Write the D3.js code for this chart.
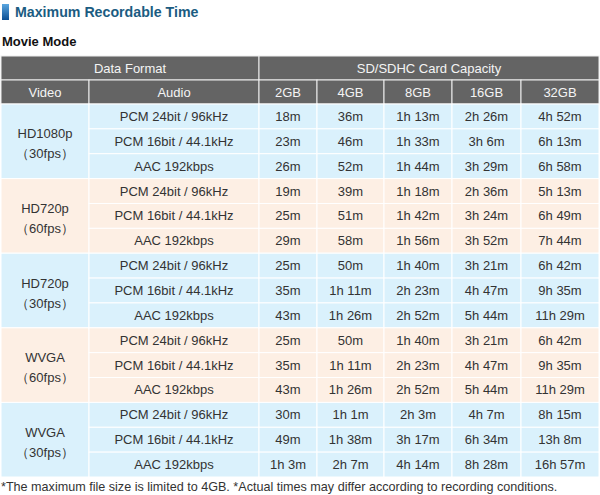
<!DOCTYPE html>
<html>
<head>
<meta charset="utf-8">
<script src="https://cdnjs.cloudflare.com/ajax/libs/d3/7.8.5/d3.min.js"></script>
<style>
body { margin: 0; background: #fff; }
svg text { font-family: "Liberation Sans", Arial, sans-serif; }
</style>
</head>
<body>
<div id="chart"></div>
<script>
// table content
var videoFormats = ["HD1080p", "HD720p", "HD720p", "WVGA", "WVGA"];
var frameRates = ["（30fps）", "（60fps）", "（30fps）", "（60fps）", "（30fps）"];
var audioFormats = ["PCM 24bit / 96kHz", "PCM 16bit / 44.1kHz", "AAC 192kbps"];
var capacities = ["2GB", "4GB", "8GB", "16GB", "32GB"];
// one row per video/audio combination, one value per capacity
var recTimes = [
	["18m", "36m", "1h 13m", "2h 26m", "4h 52m"],
	["23m", "46m", "1h 33m", "3h 6m", "6h 13m"],
	["26m", "52m", "1h 44m", "3h 29m", "6h 58m"],
	["19m", "39m", "1h 18m", "2h 36m", "5h 13m"],
	["25m", "51m", "1h 42m", "3h 24m", "6h 49m"],
	["29m", "58m", "1h 56m", "3h 52m", "7h 44m"],
	["25m", "50m", "1h 40m", "3h 21m", "6h 42m"],
	["35m", "1h 11m", "2h 23m", "4h 47m", "9h 35m"],
	["43m", "1h 26m", "2h 52m", "5h 44m", "11h 29m"],
	["25m", "50m", "1h 40m", "3h 21m", "6h 42m"],
	["35m", "1h 11m", "2h 23m", "4h 47m", "9h 35m"],
	["43m", "1h 26m", "2h 52m", "5h 44m", "11h 29m"],
	["30m", "1h 1m", "2h 3m", "4h 7m", "8h 15m"],
	["49m", "1h 38m", "3h 17m", "6h 34m", "13h 8m"],
	["1h 3m", "2h 7m", "4h 14m", "8h 28m", "16h 57m"]
];
var titleText = "Maximum Recordable Time";
var subTitle = "Movie Mode";
var footNote = "*The maximum file size is limited to 4GB. *Actual times may differ according to recording conditions.";

var width = 600, height = 495;
// column edges: video, audio, then the capacity columns
var colEdges = [1, 89, 259, 317, 384, 452, 521, 599];
var headTop = 56, headRow = 24;
var bodyTop = headTop + 2*headRow, bodyBottom = 477;

var headColor = "#646464";
var groupColors = ["#daf1fc", "#fdefe4"];
var textColor = "#333";

var svg = d3.select("#chart").append("svg")
	.attr("width", width)
	.attr("height", height);

// row scale for the body
var rowIdx = d3.range(recTimes.length);
var yScale = d3.scaleBand()
	.domain(rowIdx)
	.range([bodyTop, bodyBottom]);

// column scale: key -> left edge
var colKeys = ["video", "audio"].concat(capacities);
var xScale = d3.scaleOrdinal()
	.domain(colKeys)
	.range(colEdges.slice(0, -1));
function colW(k) {
	var i = colKeys.indexOf(k);
	return colEdges[i+1] - colEdges[i];
}

// title bar
var grad = svg.append("defs").append("linearGradient")
	.attr("id", "tbar").attr("x1", 0).attr("y1", 0).attr("x2", 0).attr("y2", 1);
grad.append("stop").attr("offset", "0%").attr("stop-color", "#5aa6e0");
grad.append("stop").attr("offset", "100%").attr("stop-color", "#0d4f93");
svg.append("rect")
	.attr("x", 2).attr("y", 4).attr("width", 7).attr("height", 16)
	.attr("fill", "url(#tbar)");
svg.append("text")
	.attr("x", 15).attr("y", 17)
	.attr("font-size", 14.2).attr("font-weight", "bold")
	.attr("fill", "#1b5c82")
	.text(titleText);
svg.append("text")
	.attr("x", 2).attr("y", 46)
	.attr("font-size", 13).attr("font-weight", "bold")
	.attr("fill", "#111")
	.text(subTitle);

// header
var head = svg.append("g").attr("class", "head");
var headCells = [
	{x0: colEdges[0], x1: colEdges[2], y: headTop, t: "Data Format"},
	{x0: colEdges[2], x1: colEdges[7], y: headTop, t: "SD/SDHC Card Capacity"},
	{x0: colEdges[0], x1: colEdges[1], y: headTop + headRow, t: "Video"},
	{x0: colEdges[1], x1: colEdges[2], y: headTop + headRow, t: "Audio"}
];
capacities.forEach(function(c) {
	headCells.push({x0: xScale(c), x1: xScale(c) + colW(c), y: headTop + headRow, t: c});
});
head.selectAll("rect").data(headCells).enter().append("rect")
	.attr("x", function(d){ return d.x0; })
	.attr("y", function(d){ return d.y; })
	.attr("width", function(d){ return d.x1 - d.x0; })
	.attr("height", headRow)
	.attr("fill", headColor)
	.attr("stroke", "#eee").attr("stroke-width", 1);
head.selectAll("text").data(headCells).enter().append("text")
	.attr("x", function(d){ return (d.x0 + d.x1)/2; })
	.attr("y", function(d){ return d.y + headRow/2 + 4.5; })
	.attr("text-anchor", "middle")
	.attr("font-size", 13)
	.attr("fill", "#f4f4f4")
	.text(function(d){ return d.t; });

// body
var body = svg.append("g").attr("class", "body");
var nA = audioFormats.length;

// video cells (merged over the audio rows)
var vid = body.selectAll(".vid").data(videoFormats).enter().append("g").attr("class", "vid");
vid.append("rect")
	.attr("x", xScale("video"))
	.attr("y", function(d, i){ return yScale(i*nA); })
	.attr("width", colW("video"))
	.attr("height", yScale.bandwidth()*nA)
	.attr("fill", function(d, i){ return groupColors[i % 2]; })
	.attr("stroke", "#fff");
vid.append("text")
	.attr("x", xScale("video") + colW("video")/2)
	.attr("y", function(d, i){ return yScale(i*nA) + yScale.bandwidth()*nA/2 - 3; })
	.attr("text-anchor", "middle").attr("font-size", 13).attr("fill", textColor)
	.text(function(d){ return d; });
vid.append("text")
	.attr("x", xScale("video") + colW("video")/2)
	.attr("y", function(d, i){ return yScale(i*nA) + yScale.bandwidth()*nA/2 + 17; })
	.attr("text-anchor", "middle").attr("font-size", 13).attr("fill", textColor)
	.text(function(d, i){ return frameRates[i]; });

// audio + value cells
var rows = body.selectAll(".row").data(recTimes).enter().append("g").attr("class", "row");
var cellData = function(d, r) {
	var out = [{k: "audio", t: audioFormats[r % nA], r: r}];
	d.forEach(function(v, j){ out.push({k: capacities[j], t: v, r: r}); });
	return out;
};
var cells = rows.selectAll(".cell").data(cellData).enter().append("g").attr("class", "cell");
cells.append("rect")
	.attr("x", function(d){ return xScale(d.k); })
	.attr("y", function(d){ return yScale(d.r); })
	.attr("width", function(d){ return colW(d.k); })
	.attr("height", yScale.bandwidth())
	.attr("fill", function(d){ return groupColors[Math.floor(d.r / nA) % 2]; })
	.attr("stroke", "#fff");
cells.append("text")
	.attr("x", function(d){ return xScale(d.k) + colW(d.k)/2; })
	.attr("y", function(d){ return yScale(d.r) + yScale.bandwidth()/2 + 4.5; })
	.attr("text-anchor", "middle")
	.attr("font-size", 13)
	.attr("fill", textColor)
	.text(function(d){ return d.t; });

// footnote
svg.append("text")
	.attr("x", 1).attr("y", 491)
	.attr("font-size", 12.6)
	.attr("fill", textColor)
	.text(footNote);
</script>
</body>
</html>
